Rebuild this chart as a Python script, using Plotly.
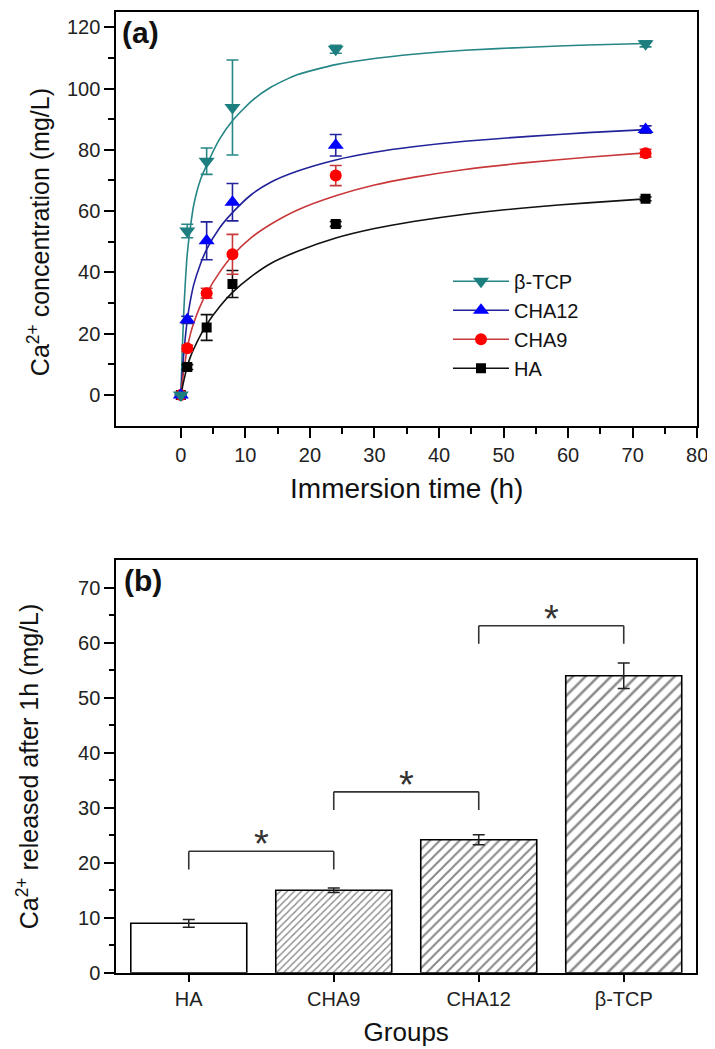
import plotly.graph_objects as go

# ---------------- Panel (a) data ----------------
time_h = [0, 1, 4, 8, 24, 72]
series_names = ["β-TCP", "CHA12", "CHA9", "HA"]
tcp_vals = [0, 53.5, 76.3, 93.8, 112.8, 114.6]
tcp_err = [0, 2.2, 4.3, 15.5, 1.3, 1.0]
cha12_vals = [0, 24.5, 50.3, 62.9, 81.5, 86.6]
cha12_err = [0, 1.2, 6.2, 6.1, 3.5, 1.2]
cha9_vals = [0, 15.2, 33.2, 45.9, 71.6, 78.9]
cha9_err = [0, 1.0, 1.6, 6.5, 3.3, 1.3]
ha_vals = [0, 9.1, 22.0, 36.2, 55.8, 64.0]
ha_err = [0, 0.8, 4.2, 4.4, 0.8, 0.6]

# fitted curves
fit_t = [0, 0.25, 0.5, 1, 1.5, 2, 3, 4, 6, 8, 11, 14, 18, 24, 30, 36, 44, 54, 63, 72]
tcp_fit = [0, 16, 29, 46, 55, 62, 70, 75, 83.5, 89.5, 96, 100.5, 104.5, 107.8, 109.8, 111.2, 112.5, 113.5, 114.2, 114.7]
cha12_fit = [0, 8, 14.5, 24.5, 31, 36, 42.5, 47.5, 54.5, 59.5, 65.5, 69.5, 73, 76.7, 79.2, 81, 82.8, 84.4, 85.6, 86.6]
cha9_fit = [0, 4.5, 8.5, 15.2, 20, 23.5, 29, 33.2, 40, 45.5, 51.5, 55.8, 60.3, 65, 68.5, 71, 73.6, 75.9, 77.6, 79]
ha_fit = [0, 2.5, 5, 9.3, 12.5, 15, 19.3, 23, 28.8, 33.5, 38.8, 43, 46.8, 51.2, 54.3, 56.6, 59, 61.2, 62.7, 64]

# ---------------- Panel (b) data ----------------
groups = ["HA", "CHA9", "CHA12", "β-TCP"]
release_1h = [9.0, 15.0, 24.2, 54.0]
release_err = [0.7, 0.4, 0.9, 2.3]
sig_pairs = [(0, 1), (1, 2), (2, 3)]
sig_heights = [22.1, 32.9, 63.1]
sig_leg = 3.3

FONT = "Liberation Sans, Arial, sans-serif"

fig = go.Figure()

styles = [
    dict(vals=tcp_vals, err=tcp_err, fit=tcp_fit, mcol="#1c7e7e", lcol="#268686", sym="triangle-down", size=14),
    dict(vals=cha12_vals, err=cha12_err, fit=cha12_fit, mcol="#0000ff", lcol="#22229a", sym="triangle-up", size=14),
    dict(vals=cha9_vals, err=cha9_err, fit=cha9_fit, mcol="#ff0000", lcol="#c8383a", sym="circle", size=12),
    dict(vals=ha_vals, err=ha_err, fit=ha_fit, mcol="#000000", lcol="#111111", sym="square", size=10),
]

# curves first (drawn below markers)
for name, st in zip(series_names, styles):
    fig.add_trace(go.Scatter(
        x=fit_t, y=st["fit"], mode="lines",
        line=dict(color=st["lcol"], width=1.6, shape="spline", smoothing=0.6),
        showlegend=False, hoverinfo="skip", xaxis="x", yaxis="y"))

for name, st in reversed(list(zip(series_names, styles))):
    fig.add_trace(go.Scatter(
        x=time_h, y=st["vals"], mode="markers",
        marker=dict(color=st["mcol"], symbol=st["sym"], size=st["size"]),
        error_y=dict(type="data", array=st["err"], color=st["lcol"], thickness=1.6, width=6),
        showlegend=False, xaxis="x", yaxis="y"))

# legend entries (line + marker)
for name, st in zip(series_names, styles):
    fig.add_trace(go.Scatter(
        x=[None], y=[None], mode="lines+markers", name=name,
        line=dict(color=st["lcol"], width=1.6),
        marker=dict(color=st["mcol"], symbol=st["sym"], size=st["size"]),
        xaxis="x", yaxis="y"))

# ---------------- Panel (b) bars ----------------
fig.add_trace(go.Bar(
    x=list(range(len(groups))), y=release_1h, width=0.8,
    marker=dict(color="white", line=dict(color="black", width=1.6),
                pattern=dict(shape=["", "/", "/", "/"], size=[8, 5, 7, 9],
                             solidity=0.28, fgcolor="#111111", bgcolor="white")),
    error_y=dict(type="data", array=release_err, color="#222222", thickness=1.5, width=6),
    showlegend=False, xaxis="x2", yaxis="y2"))

shapes = []
annotations = []
for (a, b), h in zip(sig_pairs, sig_heights):
    for x0, y0, x1, y1 in [(a, h - sig_leg, a, h), (a, h, b, h), (b, h, b, h - sig_leg)]:
        shapes.append(dict(type="line", xref="x2", yref="y2", x0=x0, y0=y0, x1=x1, y1=y1,
                           line=dict(color="#333333", width=1.6)))
    annotations.append(dict(x=(a + b) / 2, y=h, xref="x2", yref="y2", text="*", showarrow=False,
                            yanchor="bottom", yshift=-16, font=dict(family=FONT, size=38, color="#333333")))

annotations.append(dict(x=0.006, y=0.995, xref="x domain", yref="y domain", text="<b>(a)</b>",
                        showarrow=False, xanchor="left", yanchor="top",
                        font=dict(family=FONT, size=30, color="#111111")))
annotations.append(dict(x=0.01, y=0.995, xref="x2 domain", yref="y2 domain", text="<b>(b)</b>",
                        showarrow=False, xanchor="left", yanchor="top",
                        font=dict(family=FONT, size=30, color="#111111")))
# y-axis title of panel (a)
annotations.append(dict(x=0.0434, y=0.7836, xref="paper", yref="paper",
                        text="Ca<sup>2+</sup> concentration (mg/L)", textangle=-90, showarrow=False,
                        xanchor="center", yanchor="middle",
                        font=dict(family=FONT, size=25, color="#111111")))

axis_common = dict(showline=True, linewidth=2, linecolor="black", mirror=True, showgrid=False,
                   zeroline=False, ticks="outside", ticklen=10, tickwidth=2, tickcolor="black",
                   tickfont=dict(family=FONT, size=20, color="#222222"))

fig.update_layout(
    width=715, height=1049,
    margin=dict(l=0, r=0, t=0, b=0),
    paper_bgcolor="white", plot_bgcolor="white",
    font=dict(family=FONT, color="#222222"),
    showlegend=True,
    legend=dict(x=0.625, y=0.7555, xanchor="left", yanchor="top", bgcolor="rgba(0,0,0,0)",
                font=dict(family=FONT, size=20, color="#111111"), itemwidth=56, tracegroupgap=0),
    xaxis=dict(axis_common, domain=[0.1538, 0.979], range=[-10, 80], anchor="y",
               tickvals=[0, 10, 20, 30, 40, 50, 60, 70, 80],
               minor=dict(tickvals=[5, 15, 25, 35, 45, 55, 65, 75], ticklen=6, tickwidth=2,
                          ticks="outside", tickcolor="black"),
               title=dict(text="Immersion time (h)", font=dict(family=FONT, size=28, color="#111111"),
                          standoff=14)),
    yaxis=dict(axis_common, domain=[0.5977, 0.9962], range=[-10, 125], anchor="x",
               tickvals=[0, 20, 40, 60, 80, 100, 120],
               minor=dict(tickvals=[10, 30, 50, 70, 90, 110], ticklen=6, tickwidth=2,
                          ticks="outside", tickcolor="black")),
    xaxis2=dict(axis_common, domain=[0.1538, 0.9776], range=[-0.5, 3.5], anchor="y2",
                tickvals=list(range(len(groups))), ticktext=groups, ticklen=7,
                title=dict(text="Groups", font=dict(family=FONT, size=26, color="#111111"), standoff=14)),
    yaxis2=dict(axis_common, domain=[0.0705, 0.468], range=[0, 75], anchor="x2",
                tickvals=[0, 10, 20, 30, 40, 50, 60, 70],
                minor=dict(tickvals=[5, 15, 25, 35, 45, 55, 65], ticklen=5, tickwidth=2,
                           ticks="outside", tickcolor="black"),
                title=dict(text="Ca<sup>2+</sup> released after 1h (mg/L)",
                           font=dict(family=FONT, size=25, color="#111111"), standoff=32)),
    shapes=shapes,
    annotations=annotations,
)

fig.write_html("out.html")
